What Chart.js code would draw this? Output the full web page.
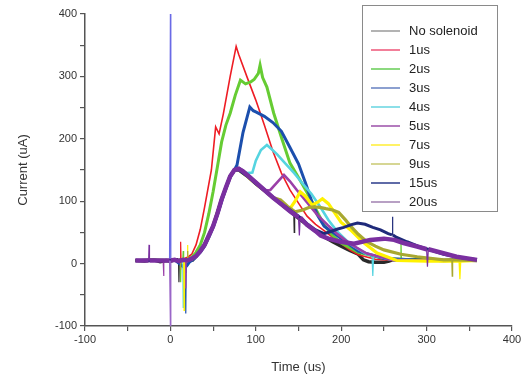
<!DOCTYPE html>
<html>
<head>
<meta charset="utf-8">
<script src="https://cdn.jsdelivr.net/npm/chart.js@4/dist/chart.umd.min.js"></script>
<style>
  html, body { margin: 0; padding: 0; background: #fff; }
  #wrap { width: 528px; height: 379px; position: relative; }
</style>
</head>
<body>
<div id="wrap"><canvas id="chartCanvas"></canvas></div>
<script>
// series: time (us) and current (uA)
const tNoSol = [-41,-30,-20,-12,-5,0,5,9.5,10,10.5,17.5,18,18.5,22,26,30,35,40,45,50,55,60,65,70,75,80,85,90,100,110,120,130,140,144.5,145,145.5,150,160,170,180,190,200,210,220,226,232,240,250,256,260,270,285,300,320,340,359];
const iNoSol = [5,4,6,3,5,4,6,6,-30,6,6,-15,6,8,6,12,20,30,45,60,80,103,122,140,150,152,148,142,130,118,106,95,84,79,50,78,73,62,52,43,35,28,21,15,6,3,2,2,4,6,6,6,6,5,6,5];

const t1us = [-41,-25,-10,0,8,11.5,12,12.5,15.5,16,16.5,20,25,30,35,40,44,48,53,57,62,70,77,80,90,100,110,120,130,140,150,160,170,180,190,200,210,220,240,260,300,359];
const i1us = [5,5,6,5,4,5,35,5,6,-20,8,10,15,30,55,90,120,150,219,208,240,300,348,335,298,262,222,180,145,118,97,76,63,53,42,32,22,14,7,5,5,5];

const t2us = [-41,-20,0,11.5,12,12.5,14.5,15,15.5,20,25,30,35,40,45,50,55,60,65,70,76,82,88,94,98,103,105,108,113,121,131,140,150,160,170,180,190,200,220,250,269.5,270,270.5,300,359];
const i2us = [5,6,5,5,-30,5,6,20,6,6,10,18,30,50,80,115,155,195,222,241,270,294,288,291,295,305,318,298,283,241,198,161,138,114,88,62,45,33,18,8,7,35,7,5,5];

const t3us = [-41,-20,-1,0,0.5,5,15,17.5,18,18.5,22,28,35,40,45,50,55,60,65,70,75,78,85,93,97,100,110,120,130,140,150,158,165,172,180,190,200,220,250,300,359];
const i3us = [5,5,5,400,5,6,-5,-5,-80,-5,2,8,18,28,42,58,78,100,120,138,150,158,210,251,245,243,236,226,212,186,160,130,102,78,60,50,40,20,8,5,5];

const t4us = [-41,-20,0,10,14.5,15,15.5,25,30,40,50,60,70,75,80,85,90,96,100,106,113,118,125,135,145,155,165,175,185,195,210,230,236,237,238,260,300,359];
const i4us = [5,5,5,5,5,-70,5,8,12,30,60,103,140,150,150,147,145,146,165,182,190,184,175,160,145,128,112,92,70,52,32,15,14,-20,13,6,5,5];

const t5us = [-41,-20,-8.5,-8,-7.5,0,10,17.5,18,18.5,25,30,40,50,60,70,75,80,90,100,110,117,125,133,140,148,160,172,184,195,210,230,260,300,359];
const i5us = [5,6,5,-20,5,5,5,5,-40,5,6,12,30,60,103,140,150,150,140,128,117,118,130,142,132,118,98,78,62,48,32,16,6,5,5];

const t7us = [-41,-20,0,12,15.5,16,16.5,19.5,20,20.5,25,30,40,50,60,70,75,80,90,100,110,120,130,140,146,152,158,166,172,178,185,192,200,211,225,242,265,300,338,339,340,359];
const i7us = [5,5,5,5,5,-75,5,5,30,5,8,12,30,60,103,140,150,150,140,128,117,106,96,88,100,115,108,94,98,104,96,82,66,54,35,17,5,4,4,-25,4,5];

const t9us = [-41,-20,0,11.5,12,12.5,19.5,20,20.5,25,30,40,50,60,70,75,80,90,100,110,120,129,137,146,155,162,168,175,182,190,197,205,211,220,230,240,250,270,289,320,329.5,330,330.5,359];
const i9us = [5,5,5,5,-10,5,5,20,5,8,12,30,60,103,140,150,150,140,128,117,106,102,92,83,86,90,91,90,88,86,82,70,60,47,35,28,22,15,11,6,6,-20,6,5];

const t15us = [-41,-20,0,10,20,25,30,40,50,60,70,75,80,90,100,110,120,130,140,150,160,170,180,187,195,203,211,219,228,237,246,255,259.5,260,260.5,265,277,290,304,320,343,359];
const i15us = [5,5,5,5,5,8,12,30,60,103,140,150,150,140,128,117,106,96,86,76,64,54,48,51,55,58,62,65,63,58,54,48,46,75,46,42,35,28,22,15,9,6];

const t20us = [-41,-30,-25.5,-25,-24.5,-10,-1,0,0.5,5,10,15,20,25,30,35,40,45,50,55,60,65,70,75,80,85,90,100,110,120,130,140,150,151,152,160,170,176,185,199,215,234,250,262,273,290,300,301,302,313,335,359];
const i20us = [5,5,5,30,5,5,5,-100,5,6,4,6,5,8,12,20,30,45,60,80,103,122,140,150,152,148,142,130,118,106,95,84,74,45,74,62,52,45,40,35,32,38,40,38,33,27,23,-5,23,19,11,6];

const seriesNames = ['No solenoid', '1us', '2us', '3us', '4us', '5us', '7us', '9us', '15us', '20us'];
const seriesTimes = [tNoSol, t1us, t2us, t3us, t4us, t5us, t7us, t9us, t15us, t20us];
const seriesValues = [iNoSol, i1us, i2us, i3us, i4us, i5us, i7us, i9us, i15us, i20us];
const seriesColors = ['#2a2a2a', '#ee1c24', '#66cc33', '#1c4fad', '#55d4e0', '#9b3fa8', '#fff200', '#a8a830', '#1f2a7a', '#7a2fa0'];
const legendColors = ['#9a9a9a', '#ee5577', '#66cc55', '#6680c0', '#66d4e0', '#9b4fa8', '#ffee33', '#c8c870', '#2a3a8a', '#a080b0'];
const seriesWidths = [3.5, 1.6, 3, 3, 2.6, 2.6, 3.2, 3.2, 3, 4.5];

// legend drawn as a framed box inside the plot, like the original
const boxLegend = {
    id: 'boxLegend',
    afterDraw(chart) {
        const ctx = chart.ctx;
        const x0 = 362, y0 = 5, w = 135, h = 206;
        ctx.save();
        ctx.fillStyle = '#fff';
        ctx.fillRect(x0, y0, w, h);
        ctx.strokeStyle = '#8a8a8a';
        ctx.lineWidth = 1;
        ctx.strokeRect(x0 + 0.5, y0 + 0.5, w, h);
        ctx.font = '13px "Liberation Sans", Arial, sans-serif';
        ctx.textBaseline = 'middle';
        seriesNames.forEach((name, i) => {
            const y = 31 + i * 19;
            ctx.strokeStyle = legendColors[i];
            ctx.lineWidth = 1.5;
            ctx.beginPath();
            ctx.moveTo(371, y);
            ctx.lineTo(400, y);
            ctx.stroke();
            ctx.fillStyle = '#222';
            ctx.fillText(name, 409, y);
        });
        ctx.restore();
    }
};

// noise spikes (very short segments) are thin lines in the original
const isSpike = c => Math.abs(c.p1.parsed.x - c.p0.parsed.x) <= 1;
const isTrigger = c => c.p0.parsed.x === 0 || c.p1.parsed.x === 0;

const datasets = seriesNames.map((name, i) => ({
    label: name,
    data: seriesTimes[i].map((t, k) => ({ x: t, y: seriesValues[i][k] })),
    borderColor: seriesColors[i],
    borderWidth: seriesWidths[i],
    pointRadius: 0,
    tension: 0,
    fill: false,
    order: seriesNames.length - i,
    segment: {
        borderWidth: c => (isSpike(c) ? 1.2 : undefined),
        borderColor: c => (isSpike(c) && isTrigger(c) ? (i === 3 ? '#6a6ae6' : '#9a66c8') : undefined)
    }
}));

const axisColor = '#555';
const tickFont = { family: '"Liberation Sans", Arial, sans-serif', size: 11 };
const titleFont = { family: '"Liberation Sans", Arial, sans-serif', size: 13 };

new Chart(document.getElementById('chartCanvas'), {
    type: 'line',
    data: { datasets },
    options: {
        responsive: true,
        maintainAspectRatio: false,
        animation: false,
        events: [],
        layout: { padding: { top: 14, right: 16, left: 0, bottom: 0 } },
        plugins: {
            legend: { display: false },
            tooltip: { enabled: false }
        },
        scales: {
            x: {
                type: 'linear',
                min: -100,
                max: 400,
                afterFit: s => { s.height = 53; },
                border: { color: axisColor, width: 1.5 },
                grid: { drawOnChartArea: false, color: axisColor, tickLength: 5, lineWidth: 1.2 },
                ticks: {
                    stepSize: 50,
                    color: '#333',
                    font: tickFont,
                    padding: 2,
                    maxRotation: 0,
                    callback: v => (v % 100 === 0 ? v : '')
                },
                title: { display: true, text: 'Time (us)', color: '#333', font: titleFont, padding: { top: 6 } }
            },
            y: {
                min: -100,
                max: 400,
                afterFit: s => { s.width = 85; },
                border: { color: axisColor, width: 1.5 },
                grid: { drawOnChartArea: false, color: axisColor, tickLength: 5, lineWidth: 1.2 },
                ticks: {
                    stepSize: 50,
                    color: '#333',
                    font: tickFont,
                    padding: 3,
                    callback: v => (v % 100 === 0 ? v : '')
                },
                title: { display: true, text: 'Current (uA)', color: '#333', font: titleFont, padding: { top: 16, bottom: 8 } }
            }
        }
    },
    plugins: [boxLegend]
});
</script>
</body>
</html>
